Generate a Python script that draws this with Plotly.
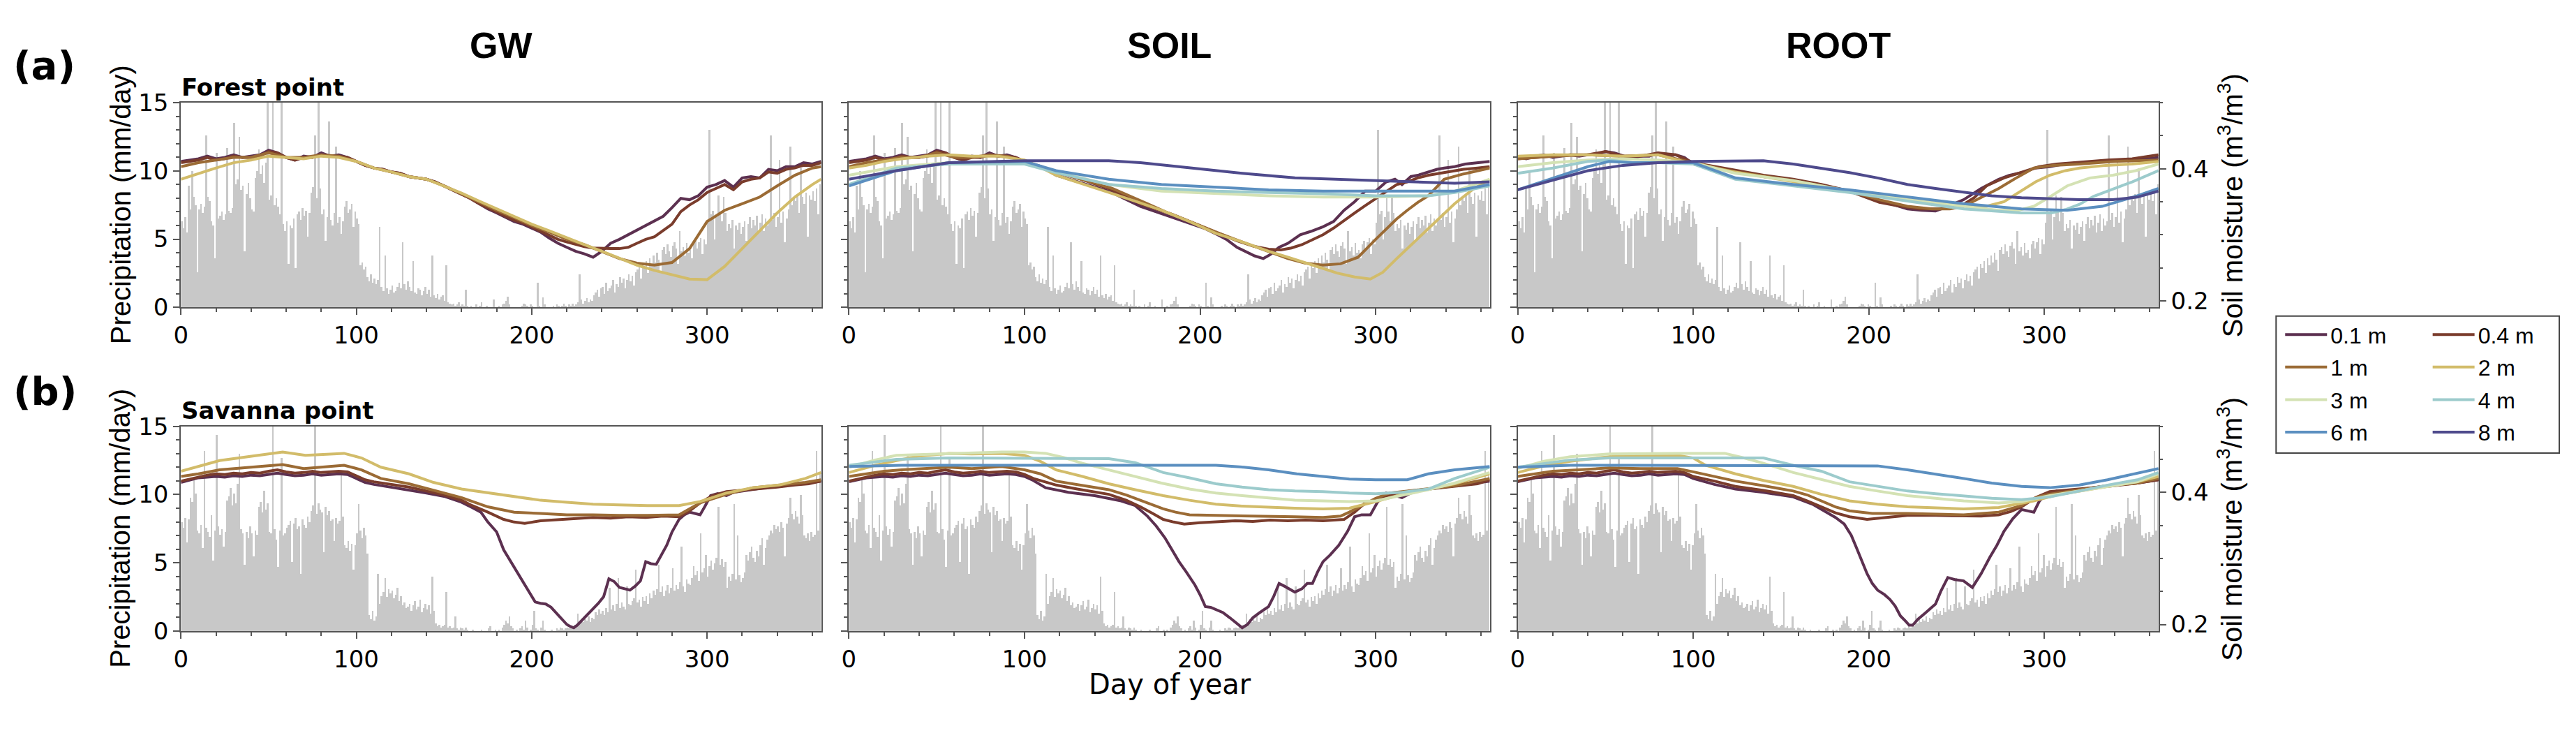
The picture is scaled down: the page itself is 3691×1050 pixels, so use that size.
import plotly.graph_objects as go

W, H = 3691, 1050

# ---------------- data ----------------
DAYS = list(range(1, 366))

PRECIP_FOREST = [
    6.3, 5.8, 6.6, 5.5, 8.9, 7.2, 10.0, 8.1, 7.5, 2.6,
    7.2, 7.6, 6.9, 7.4, 12.6, 8.1, 7.8, 6.3, 6.0, 3.6,
    11.3, 6.5, 6.7, 7.0, 6.4, 6.8, 11.7, 7.1, 6.9, 7.3,
    13.5, 9.0, 9.4, 12.5, 8.6, 8.9, 4.1, 8.3, 9.1, 8.0,
    7.2, 7.0, 9.5, 10.0, 11.6, 9.8, 10.4, 9.1, 10.6, 16.0,
    7.9, 8.2, 16.0, 7.5, 8.0, 7.4, 6.8, 15.5, 6.1, 5.6,
    6.3, 3.2, 6.0, 5.8, 6.5, 2.9, 6.8, 7.0, 6.4, 7.3,
    6.7, 7.1, 5.2, 6.9, 8.4, 8.8, 12.6, 8.0, 15.5, 8.7,
    6.8, 7.2, 4.9, 6.6, 13.6, 6.4, 6.0, 6.9, 11.8, 6.2,
    6.6, 5.4, 6.3, 7.4, 7.8, 6.9, 7.2, 7.6, 5.9, 7.0,
    6.5, 6.1, 3.1, 3.3, 2.8, 3.0, 2.2, 1.9, 2.4, 1.8,
    2.1, 1.7, 2.0, 5.9, 1.5, 1.2, 3.8, 1.4, 1.0, 1.3,
    1.6, 1.1, 1.2, 1.5, 1.8, 1.4, 4.8, 1.7, 1.3, 1.9,
    1.5, 1.2, 3.4, 1.1, 1.0, 1.4, 1.3, 0.9, 1.2, 1.5,
    1.0, 1.3, 0.8, 3.8, 0.9, 0.7, 1.0, 0.6, 0.8, 0.9,
    0.5, 3.1, 0.4, 0.3, 0.2, 0.3, 0.1, 0.2, 0.4, 0.1,
    0.2, 0.1, 1.3, 0.1, 0.0, 0.1, 0.0, 0.0, 0.2, 0.0,
    0.1, 0.4, 0.0, 0.0, 0.1, 0.0, 0.0, 0.0, 0.6, 0.0,
    0.0, 0.1, 0.0, 0.2, 0.3, 0.5, 0.8, 0.2, 0.0, 0.0,
    0.0, 0.0, 0.0, 0.0, 0.1, 0.3, 0.2, 0.1, 0.0, 0.2,
    0.1, 0.0, 0.0, 1.8, 0.1, 0.0, 0.75, 0.2, 0.0, 0.0,
    0.0, 0.0, 0.1, 0.0, 0.2, 0.1, 0.0, 0.1, 0.3, 0.1,
    0.0, 0.2, 0.1, 0.3, 0.1, 0.2, 0.4, 2.4, 0.6, 0.3,
    0.5, 0.7, 0.4, 0.6, 0.5, 0.9, 1.1, 1.3, 0.8, 1.4,
    1.5, 1.0, 1.8, 1.2, 1.4, 1.6, 2.0, 1.1, 1.7, 1.5,
    2.2, 1.8, 2.1, 1.4, 2.0, 2.4, 1.9, 2.3, 1.6, 2.6,
    2.8, 3.0, 2.1, 3.2, 2.9, 3.4, 2.5, 3.6, 3.1, 3.8,
    3.3, 4.0, 3.5, 2.7, 4.2, 4.4, 3.9, 4.6, 4.1, 3.7,
    4.5, 4.8, 4.3, 3.2, 5.6, 4.1, 4.4, 3.8, 4.7, 4.0,
    4.2, 3.6, 4.6, 4.9, 4.3, 4.8, 5.1, 3.9, 5.0, 4.6,
    6.2, 13.0, 6.8, 7.1, 5.0, 6.6, 8.2, 7.0, 6.3, 8.1,
    6.9, 5.6, 6.1, 5.8, 6.4, 4.3, 6.0, 5.7, 6.2, 5.4,
    5.9, 6.3, 4.9, 6.1, 6.6, 5.8, 6.4, 6.0, 6.7, 5.5,
    6.2, 6.8, 5.6, 6.5, 6.0, 6.3, 12.6, 6.4, 6.9, 5.9,
    6.6, 10.8, 6.2, 7.0, 4.8, 6.5, 7.2, 11.8, 7.5, 8.0,
    7.8, 8.3, 6.9, 10.2, 8.1, 7.6, 8.4, 5.2, 8.2, 7.9,
    8.5, 7.8, 8.7, 6.8, 9.0,
]

PRECIP_SAVANNA = [
    8.0, 7.6, 8.3, 6.5, 8.2, 9.8, 9.5, 11.3, 10.1, 7.4,
    7.2, 7.8, 6.1, 13.2, 7.6, 7.3, 6.9, 8.5, 5.2, 7.4,
    14.4, 7.7, 7.1, 7.5, 6.2, 7.3, 9.6, 9.9, 10.5, 9.2,
    10.1, 9.4, 10.8, 13.0, 7.5, 7.2, 4.9, 7.3, 6.8, 7.7,
    7.2, 5.5, 7.4, 7.1, 9.1, 9.5, 8.7, 10.3, 8.9, 9.4,
    7.3, 7.2, 16.0, 7.5, 6.7, 4.7, 7.4, 12.7, 7.0, 7.2,
    7.6, 7.8, 8.1, 5.1, 7.9, 8.3, 7.5, 7.7, 4.2, 8.2,
    7.8, 7.6, 8.4, 8.0, 8.8, 9.2, 16.0, 8.6, 9.4, 8.9,
    8.7, 5.8, 9.1, 8.5, 8.8, 8.1, 8.2, 6.6, 8.3, 7.9,
    8.1, 11.5, 8.4, 6.3, 6.1, 6.6, 5.9, 6.4, 4.5, 6.3,
    7.2, 9.3, 7.4, 6.8, 7.6, 7.0, 5.7, 1.2, 0.9, 1.5,
    0.8, 1.1, 4.2, 2.0, 2.6, 2.9, 3.9, 2.5, 3.1, 2.8,
    3.0, 2.4, 2.7, 3.2, 2.2, 2.6, 1.9, 2.1, 1.7, 1.8,
    2.0, 1.5, 1.9, 2.2, 1.6, 1.8, 2.3, 1.4, 1.7, 2.0,
    1.6, 1.9, 1.3, 4.0, 1.5, 0.6, 0.4, 0.5, 0.3, 0.4,
    0.5, 2.9, 0.3, 0.4, 0.2, 0.3, 1.1, 0.2, 0.1, 0.3,
    0.2, 0.1, 0.3, 0.1, 0.0, 0.0, 0.1, 0.0, 0.0, 0.0,
    0.0, 0.1, 0.0, 0.0, 0.0, 0.2, 0.4, 0.0, 0.0, 0.1,
    0.0, 0.1, 0.0, 0.3, 0.5, 0.8, 0.6, 1.1, 0.4, 0.2,
    0.0, 0.1, 0.0, 0.2, 0.4, 0.1, 0.8, 0.3, 0.0, 0.1,
    0.5, 1.5, 0.2, 0.1, 0.0, 0.3, 0.8, 0.1, 0.0, 0.0,
    0.0, 0.1, 0.0, 0.0, 0.2, 0.1, 0.3, 0.2, 0.1, 0.2,
    0.3, 0.2, 0.4, 0.3, 0.5, 0.4, 1.3, 0.6, 0.9, 0.7,
    0.9, 0.8, 1.1, 0.7, 1.0, 0.9, 1.4, 1.2, 1.6, 1.3,
    1.5, 1.2, 1.7, 1.4, 3.2, 1.6, 1.9, 1.5, 2.0, 3.9,
    1.7, 2.1, 1.8, 1.6, 3.3, 2.0, 1.9, 2.2, 2.4, 4.5,
    2.1, 2.3, 1.8, 2.5, 2.2, 2.6, 2.0, 2.8, 2.4, 3.0,
    2.7, 3.1, 4.9, 2.9, 3.3, 2.6, 3.0, 3.4, 2.8, 3.2,
    4.6, 3.0, 3.4, 3.1, 3.6, 6.2, 3.3, 2.9, 3.8, 3.5,
    3.4, 3.9, 4.8, 4.1, 4.4, 3.7, 7.2, 4.3, 4.6, 5.6,
    4.0, 4.8, 5.2, 4.5, 5.0, 5.4, 9.1, 4.9, 5.3, 4.7,
    5.1, 3.2, 4.0, 3.7, 4.2, 9.3, 3.8, 7.0, 4.1, 3.6,
    3.9, 4.3, 5.6, 5.2, 5.8, 6.2, 5.4, 5.1, 5.9, 5.5,
    6.3, 6.8, 4.9, 6.1, 6.7, 7.0, 7.4, 7.2, 7.8, 7.5,
    7.7, 7.3, 8.0, 7.6, 5.5, 7.9, 8.3, 9.8, 8.6, 8.2,
    8.8, 8.4, 7.9, 10.0, 8.5, 7.0, 6.8, 7.2, 6.6, 7.3,
    6.9, 7.1, 13.2, 7.4, 11.5,
]

DEPTHS = ["0.1 m", "0.4 m", "1 m", "2 m", "3 m", "4 m", "6 m", "8 m"]
DEPTH_COLORS = ["#5c3050", "#7a3c2c", "#9b6b35", "#d2bc6a",
                "#d4e2b4", "#9ccbcc", "#5b8fc0", "#4e4a8c"]
COLUMNS = ["GW", "SOIL", "ROOT"]
ROW_NAMES = ["Forest point", "Savanna point"]
ROW_LETTERS = ["(a)", "(b)"]
X_TICKS = [0, 100, 200, 300]

# soil moisture (m3/m3) as (day of year, value)
F_GW_01 = [(0,.411),(5,.413),(10,.415),(15,.419),(20,.415),(25,.417),(30,.421),(35,.417),(40,.419),(45,.421),(50,.428),(55,.424),(60,.417),(65,.413),(70,.419),(75,.417),(80,.424),(85,.419),(90,.421),(95,.417),(100,.411),(105,.405),(110,.401),(115,.399),(120,.395),(125,.393),(130,.388),(135,.386),(140,.384),(145,.380),(150,.374),(155,.368),(160,.362),(165,.355),(170,.347),(175,.339),(180,.333),(185,.326),(190,.320),(195,.316),(200,.310),(205,.304),(210,.295),(215,.287),(220,.281),(225,.275),(230,.271),(235,.266),(240,.275),(245,.287),(250,.293),(255,.300),(260,.306),(265,.314),(270,.320),(275,.328),(280,.341),(285,.355),(290,.353),(295,.359),(300,.372),(305,.376),(310,.382),(315,.372),(320,.386),(325,.388),(330,.386),(335,.399),(340,.397),(345,.403),(350,.403),(355,.409),(360,.407),(365,.411)]
F_GW_04 = [(0,.409),(5,.411),(10,.413),(15,.417),(20,.413),(25,.415),(30,.419),(35,.417),(40,.417),(45,.419),(50,.426),(55,.424),(60,.417),(65,.413),(70,.417),(75,.417),(80,.421),(85,.419),(90,.419),(95,.417),(100,.411),(105,.405),(110,.401),(115,.399),(120,.395),(125,.393),(130,.388),(135,.386),(140,.384),(145,.380),(150,.374),(155,.368),(160,.362),(165,.355),(170,.347),(175,.341),(180,.335),(185,.328),(190,.322),(195,.318),(200,.312),(205,.306),(210,.300),(215,.293),(220,.289),(225,.285),(230,.282),(235,.280),(240,.279),(245,.279),(250,.279),(255,.281),(260,.287),(265,.293),(270,.297),(275,.306),(280,.316),(285,.335),(290,.345),(295,.353),(300,.364),(305,.370),(310,.376),(315,.368),(320,.380),(325,.384),(330,.386),(335,.395),(340,.393),(345,.399),(350,.401),(355,.405),(360,.405),(365,.409)]
F_GW_1 = [(0,.403),(10,.409),(20,.413),(30,.417),(40,.417),(50,.424),(60,.417),(70,.417),(80,.421),(90,.419),(100,.411),(110,.401),(120,.395),(130,.388),(140,.384),(150,.374),(160,.362),(170,.349),(180,.337),(190,.326),(200,.314),(210,.304),(220,.293),(230,.285),(240,.275),(250,.264),(260,.257),(270,.254),(280,.258),(290,.279),(300,.320),(310,.337),(320,.347),(330,.357),(340,.374),(350,.390),(360,.401),(365,.403)]
F_GW_2 = [(0,.384),(10,.393),(20,.401),(30,.409),(40,.413),(50,.419),(60,.417),(70,.415),(80,.419),(90,.417),(100,.411),(110,.401),(120,.395),(130,.388),(140,.384),(150,.374),(160,.363),(170,.351),(180,.339),(190,.328),(200,.316),(210,.306),(220,.295),(230,.285),(240,.275),(250,.264),(260,.254),(270,.246),(280,.239),(290,.233),(300,.232),(310,.252),(320,.279),(330,.306),(340,.333),(350,.357),(360,.376),(365,.384)]

F_SOIL_01 = [(0,.411),(5,.413),(10,.415),(15,.419),(20,.415),(25,.417),(30,.421),(35,.417),(40,.419),(45,.421),(50,.428),(55,.424),(60,.417),(65,.413),(70,.419),(75,.417),(80,.424),(85,.419),(90,.421),(95,.417),(100,.411),(110,.403),(118,.390),(130,.380),(148,.366),(166,.343),(185,.326),(195,.316),(203,.309),(210,.300),(215,.293),(221,.281),(226,.275),(231,.268),(236,.264),(240,.270),(245,.281),(250,.287),(257,.300),(263,.305),(270,.312),(276,.320),(282,.337),(288,.350),(294,.366),(300,.366),(306,.380),(311,.384),(315,.376),(320,.388),(324,.390),(330,.395),(335,.399),(339,.401),(345,.403),(351,.407),(358,.409),(365,.411)]
F_SOIL_04 = [(0,.409),(5,.411),(10,.413),(15,.417),(20,.413),(25,.415),(30,.419),(35,.417),(40,.417),(45,.419),(50,.426),(55,.424),(60,.417),(65,.413),(70,.417),(75,.417),(80,.421),(85,.419),(90,.419),(95,.417),(100,.411),(110,.401),(120,.393),(130,.386),(148,.370),(166,.347),(185,.330),(200,.314),(210,.303),(221,.291),(230,.283),(239,.278),(246,.277),(252,.280),(258,.285),(263,.291),(270,.300),(276,.310),(282,.322),(288,.333),(294,.344),(300,.355),(306,.366),(312,.376),(318,.380),(324,.386),(330,.390),(340,.395),(350,.399),(358,.401),(365,.403)]
F_SOIL_1 = [(0,.403),(10,.409),(20,.413),(30,.417),(40,.417),(50,.424),(60,.417),(70,.417),(80,.421),(90,.419),(100,.411),(110,.401),(120,.393),(130,.386),(140,.378),(150,.370),(160,.359),(170,.347),(180,.335),(190,.324),(200,.314),(210,.303),(220,.293),(230,.283),(240,.273),(250,.264),(260,.257),(270,.254),(280,.256),(290,.266),(300,.293),(306,.309),(312,.324),(318,.337),(324,.349),(330,.359),(339,.384),(350,.392),(358,.397),(365,.401)]
F_SOIL_2 = [(0,.401),(10,.405),(20,.411),(30,.415),(45,.419),(57,.421),(70,.419),(85,.419),(100,.413),(110,.401),(118,.390),(130,.380),(148,.364),(165,.349),(178,.337),(194,.320),(209,.302),(224,.289),(239,.275),(250,.266),(260,.258),(270,.249),(278,.242),(288,.236),(297,.233),(304,.243),(312,.264),(321,.287),(330,.309),(338,.330),(345,.347),(355,.368),(365,.384)]
F_SOIL_3 = [(0,.390),(27,.403),(57,.409),(100,.409),(118,.395),(148,.376),(178,.366),(209,.362),(239,.359),(270,.357),(300,.357),(330,.359),(345,.366),(365,.384)]
F_SOIL_4 = [(0,.376),(27,.401),(57,.407),(100,.407),(118,.394),(148,.376),(178,.370),(209,.366),(239,.364),(270,.362),(300,.359),(330,.359),(345,.364),(365,.374)]
F_SOIL_6 = [(0,.374),(27,.397),(57,.409),(100,.411),(118,.397),(148,.384),(178,.376),(209,.372),(239,.368),(270,.366),(300,.366),(330,.366),(345,.366),(365,.376)]
F_SOIL_8 = [(0,.384),(27,.397),(57,.409),(100,.412),(118,.412),(148,.412),(166,.409),(194,.401),(224,.393),(254,.386),(285,.383),(315,.380),(345,.378),(365,.380)]

F_ROOT_01 = [(0,.417),(5,.415),(10,.419),(15,.421),(20,.417),(25,.419),(30,.421),(35,.419),(40,.421),(45,.421),(50,.426),(55,.424),(60,.419),(65,.415),(70,.419),(75,.419),(80,.424),(85,.419),(90,.421),(95,.417),(100,.407),(110,.401),(124,.397),(140,.388),(157,.382),(173,.374),(189,.366),(205,.353),(222,.339),(230,.337),(238,.336),(245,.343),(254,.353),(264,.370),(274,.384),(280,.390),(287,.394),(295,.401),(303,.403),(311,.407),(320,.409),(330,.411),(340,.413),(353,.413),(365,.417)]
F_ROOT_04 = [(0,.415),(10,.417),(20,.419),(30,.421),(40,.421),(50,.426),(60,.419),(70,.419),(80,.424),(90,.421),(100,.409),(124,.397),(140,.390),(157,.384),(173,.376),(189,.366),(206,.349),(218,.343),(229,.339),(241,.339),(254,.346),(260,.356),(267,.374),(277,.386),(287,.394),(297,.403),(307,.407),(320,.410),(336,.413),(350,.415),(365,.421)]
F_ROOT_1 = [(0,.415),(20,.419),(40,.421),(60,.419),(80,.421),(100,.409),(124,.395),(157,.382),(189,.366),(206,.353),(222,.343),(236,.339),(246,.339),(254,.343),(264,.356),(274,.370),(284,.386),(294,.401),(305,.405),(320,.407),(340,.411),(365,.413)]
F_ROOT_2 = [(0,.419),(20,.421),(40,.421),(60,.419),(80,.421),(100,.407),(124,.395),(157,.380),(189,.366),(222,.353),(241,.347),(255,.345),(267,.343),(277,.350),(287,.366),(295,.380),(303,.390),(312,.397),(320,.401),(335,.405),(350,.407),(365,.411)]
F_ROOT_3 = [(0,.403),(20,.409),(40,.413),(60,.415),(80,.413),(100,.409),(124,.393),(157,.382),(189,.366),(222,.353),(254,.343),(274,.337),(285,.337),(294,.343),(303,.357),(313,.374),(326,.386),(339,.390),(352,.397),(365,.407)]
F_ROOT_4 = [(0,.393),(20,.401),(40,.411),(52,.413),(65,.409),(80,.409),(100,.407),(124,.384),(157,.374),(189,.364),(222,.351),(254,.339),(287,.333),(304,.333),(312,.338),(320,.346),(328,.358),(336,.366),(350,.380),(365,.397)]
F_ROOT_6 = [(0,.368),(20,.386),(40,.403),(52,.411),(65,.409),(80,.409),(100,.409),(124,.386),(157,.376),(189,.368),(222,.357),(254,.347),(287,.339),(313,.337),(333,.343),(345,.352),(353,.359),(365,.370)]
F_ROOT_8 = [(0,.368),(20,.382),(40,.397),(60,.405),(80,.409),(100,.411),(120,.412),(140,.412),(157,.407),(173,.401),(189,.394),(205,.386),(222,.376),(238,.370),(254,.364),(270,.359),(287,.356),(304,.354),(320,.353),(339,.353),(353,.357),(365,.366)]

S_GW_01 = [(0,.415),(5,.418),(10,.422),(15,.423),(20,.424),(25,.423),(30,.425),(35,.424),(40,.426),(45,.425),(50,.427),(55,.429),(60,.427),(65,.425),(70,.426),(75,.428),(80,.426),(85,.427),(90,.428),(95,.427),(100,.421),(105,.415),(110,.412),(115,.410),(120,.407),(130,.404),(140,.399),(150,.394),(160,.385),(166,.377),(171,.370),(175,.355),(180,.340),(184,.313),(187,.300),(190,.287),(193,.275),(196,.260),(199,.247),(202,.234),(205,.232),(208,.231),(211,.226),(214,.217),(217,.208),(220,.200),(222,.197),(224,.195),(226,.199),(229,.207),(232,.215),(235,.224),(238,.232),(241,.242),(244,.269),(247,.265),(250,.256),(253,.254),(256,.252),(259,.258),(262,.266),(265,.295),(268,.292),(271,.291),(274,.305),(277,.320),(280,.340),(284,.359),(287,.366),(290,.370),(293,.368),(296,.366),(299,.380),(302,.395),(306,.398),(311,.395),(315,.400),(320,.402),(326,.405),(333,.407),(341,.409),(350,.412),(358,.414),(365,.417)]
S_GW_04 = [(0,.417),(5,.420),(10,.424),(15,.426),(20,.428),(25,.427),(30,.429),(35,.428),(40,.430),(45,.429),(50,.432),(55,.434),(60,.431),(65,.429),(70,.430),(75,.432),(80,.430),(85,.431),(90,.432),(95,.431),(100,.425),(105,.419),(110,.416),(115,.414),(120,.411),(130,.408),(140,.402),(150,.396),(160,.388),(166,.380),(175,.370),(184,.359),(190,.355),(196,.353),(205,.357),(215,.359),(225,.361),(235,.362),(245,.361),(255,.363),(265,.362),(275,.364),(284,.363),(290,.372),(296,.384),(303,.395),(311,.401),(320,.403),(330,.406),(340,.408),(350,.411),(358,.413),(365,.417)]
S_GW_1 = [(0,.424),(10,.428),(22,.434),(40,.438),(58,.442),(70,.436),(80,.438),(93,.441),(103,.434),(114,.421),(130,.413),(144,.403),(160,.392),(175,.378),(190,.370),(205,.368),(220,.366),(235,.366),(250,.365),(266,.365),(284,.366),(296,.384),(311,.397),(326,.407),(341,.411),(356,.415),(365,.419)]
S_GW_2 = [(0,.432),(22,.448),(41,.455),(58,.461),(71,.456),(80,.457),(93,.459),(103,.452),(114,.438),(130,.428),(144,.415),(160,.405),(175,.399),(190,.393),(205,.388),(220,.385),(235,.382),(250,.381),(266,.380),(284,.380),(296,.386),(311,.399),(326,.407),(341,.411),(356,.421),(365,.430)]

S_SOIL_01 = [(0,.416),(5,.419),(10,.422),(15,.423),(20,.424),(25,.423),(30,.425),(35,.424),(40,.426),(45,.425),(50,.427),(55,.429),(60,.427),(65,.425),(70,.426),(75,.428),(80,.426),(85,.427),(90,.428),(95,.427),(100,.424),(105,.418),(112,.407),(125,.400),(140,.395),(155,.387),(163,.380),(170,.364),(175,.349),(180,.331),(184,.313),(188,.295),(192,.280),(197,.260),(200,.245),(203,.227),(206,.226),(209,.223),(213,.218),(217,.210),(221,.202),(224,.195),(227,.200),(230,.210),(234,.218),(239,.227),(242,.243),(245,.262),(248,.258),(251,.253),(254,.249),(258,.254),(261,.262),(264,.262),(267,.280),(270,.295),(274,.305),(279,.320),(284,.341),(288,.363),(292,.366),(297,.366),(301,.385),(306,.399),(310,.396),(315,.392),(320,.399),(330,.405),(345,.410),(358,.414),(365,.417)]
S_SOIL_04 = [(0,.417),(5,.420),(10,.424),(15,.426),(20,.428),(25,.427),(30,.429),(35,.428),(40,.430),(45,.429),(50,.432),(55,.434),(60,.431),(65,.429),(70,.430),(75,.432),(80,.430),(85,.431),(90,.432),(95,.431),(100,.427),(105,.421),(110,.417),(118,.411),(130,.405),(148,.397),(158,.388),(166,.378),(173,.368),(179,.359),(185,.355),(191,.352),(200,.354),(209,.355),(220,.357),(230,.356),(240,.358),(250,.357),(260,.358),(270,.357),(276,.358),(282,.359),(288,.370),(294,.384),(300,.388),(306,.394),(312,.399),(320,.402),(330,.405),(345,.409),(358,.413),(365,.419)]
S_SOIL_1 = [(0,.424),(10,.428),(20,.432),(30,.434),(45,.436),(57,.438),(70,.436),(87,.439),(100,.434),(109,.428),(118,.417),(133,.411),(148,.404),(158,.396),(166,.388),(172,.382),(179,.375),(186,.370),(194,.366),(209,.365),(224,.364),(239,.363),(254,.363),(270,.362),(280,.364),(285,.370),(292,.380),(300,.391),(308,.399),(315,.401),(330,.405),(345,.410),(365,.421)]
S_SOIL_2 = [(0,.430),(15,.441),(27,.448),(40,.455),(57,.459),(70,.458),(87,.459),(100,.456),(109,.447),(118,.434),(133,.424),(148,.413),(163,.404),(179,.395),(194,.388),(209,.382),(224,.379),(239,.377),(254,.376),(270,.375),(285,.376),(300,.386),(315,.397),(330,.405),(345,.413),(365,.428)]
S_SOIL_3 = [(0,.438),(15,.449),(27,.456),(57,.459),(87,.461),(100,.461),(112,.459),(122,.453),(133,.444),(148,.434),(163,.424),(178,.414),(194,.405),(209,.399),(224,.395),(239,.391),(254,.388),(270,.387),(285,.386),(300,.387),(315,.395),(330,.404),(345,.414),(365,.430)]
S_SOIL_4 = [(0,.441),(15,.446),(27,.450),(57,.452),(90,.452),(118,.452),(148,.451),(163,.445),(179,.430),(194,.422),(209,.413),(224,.408),(239,.404),(254,.402),(270,.401),(285,.399),(300,.398),(315,.400),(330,.405),(345,.421),(355,.430),(365,.438)]
S_SOIL_6 = [(0,.439),(30,.441),(60,.441),(100,.441),(150,.441),(180,.441),(209,.441),(225,.438),(239,.434),(255,.428),(270,.424),(285,.420),(300,.419),(318,.419),(330,.428),(345,.434),(365,.439)]

S_ROOT_01 = [(0,.416),(5,.419),(10,.422),(15,.423),(20,.424),(25,.423),(30,.425),(35,.424),(40,.426),(45,.425),(50,.427),(55,.429),(60,.427),(65,.425),(70,.426),(75,.428),(80,.426),(85,.427),(90,.428),(95,.427),(100,.421),(112,.412),(124,.405),(140,.400),(157,.393),(168,.382),(176,.370),(181,.362),(186,.352),(190,.335),(193,.316),(196,.297),(199,.277),(202,.262),(205,.252),(209,.245),(212,.238),(215,.228),(218,.213),(221,.205),(223,.199),(225,.199),(228,.208),(232,.217),(235,.224),(238,.231),(241,.250),(245,.271),(249,.268),(254,.266),(259,.256),(264,.277),(269,.302),(273,.320),(277,.341),(282,.360),(287,.374),(291,.372),(294,.370),(297,.386),(300,.395),(307,.402),(313,.399),(320,.404),(336,.410),(353,.414),(365,.419)]
S_ROOT_04 = [(0,.417),(5,.420),(10,.424),(15,.426),(20,.428),(25,.427),(30,.429),(35,.428),(40,.430),(45,.429),(50,.432),(55,.434),(60,.431),(65,.429),(70,.430),(75,.432),(80,.430),(85,.431),(90,.432),(95,.430),(100,.424),(112,.417),(124,.409),(140,.403),(157,.395),(165,.387),(173,.378),(181,.369),(189,.363),(199,.359),(210,.362),(222,.365),(238,.365),(254,.365),(264,.364),(274,.366),(281,.371),(287,.378),(295,.392),(303,.401),(312,.403),(320,.405),(336,.409),(353,.414),(365,.419)]
S_ROOT_1 = [(0,.424),(10,.428),(20,.432),(35,.434),(52,.437),(70,.436),(91,.436),(100,.431),(112,.424),(124,.417),(140,.410),(157,.402),(165,.396),(173,.387),(181,.378),(189,.372),(202,.368),(222,.368),(238,.367),(254,.366),(274,.370),(287,.380),(296,.393),(303,.397),(320,.404),(336,.410),(353,.414),(365,.421)]
S_ROOT_2 = [(0,.430),(15,.440),(30,.447),(52,.454),(70,.456),(91,.456),(100,.452),(107,.441),(124,.428),(140,.418),(157,.409),(173,.397),(189,.387),(205,.382),(222,.378),(238,.376),(254,.375),(274,.377),(294,.387),(307,.396),(320,.402),(336,.409),(353,.416),(365,.424)]
S_ROOT_3 = [(0,.436),(15,.447),(30,.454),(52,.458),(91,.459),(118,.459),(129,.452),(140,.444),(157,.430),(173,.420),(189,.409),(205,.402),(222,.395),(238,.391),(254,.387),(274,.384),(287,.386),(303,.395),(320,.402),(336,.409),(353,.416),(365,.428)]
S_ROOT_4 = [(0,.438),(15,.444),(30,.449),(52,.452),(91,.452),(140,.452),(157,.441),(173,.432),(189,.416),(205,.409),(222,.402),(238,.398),(254,.395),(270,.391),(287,.389),(303,.393),(320,.402),(336,.411),(353,.419),(365,.430)]
S_ROOT_6 = [(0,.438),(30,.441),(60,.441),(91,.441),(140,.441),(189,.441),(205,.440),(222,.434),(238,.428),(254,.421),(270,.414),(287,.409),(303,.407),(320,.411),(336,.419),(353,.429),(365,.436)]

PANELS = [
    ("Forest point", "GW", PRECIP_FOREST, [F_GW_01, F_GW_04, F_GW_1, F_GW_2]),
    ("Forest point", "SOIL", PRECIP_FOREST, [F_SOIL_01, F_SOIL_04, F_SOIL_1, F_SOIL_2, F_SOIL_3, F_SOIL_4, F_SOIL_6, F_SOIL_8]),
    ("Forest point", "ROOT", PRECIP_FOREST, [F_ROOT_01, F_ROOT_04, F_ROOT_1, F_ROOT_2, F_ROOT_3, F_ROOT_4, F_ROOT_6, F_ROOT_8]),
    ("Savanna point", "GW", PRECIP_SAVANNA, [S_GW_01, S_GW_04, S_GW_1, S_GW_2]),
    ("Savanna point", "SOIL", PRECIP_SAVANNA, [S_SOIL_01, S_SOIL_04, S_SOIL_1, S_SOIL_2, S_SOIL_3, S_SOIL_4, S_SOIL_6]),
    ("Savanna point", "ROOT", PRECIP_SAVANNA, [S_ROOT_01, S_ROOT_04, S_ROOT_1, S_ROOT_2, S_ROOT_3, S_ROOT_4, S_ROOT_6]),
]

# ---------------- layout helpers ----------------
def px(x):
    return x / W

def py(y):
    return 1 - y / H

COL_X = [(249, 1169), (1209, 2130), (2170, 3091)]
ROW_Y = [(132, 437), (614, 919)]

AX_COLOR = "#555555"
TICK_FONT = dict(family="DejaVu Sans", size=34, color="black")
LEG_FONT = dict(family="Liberation Sans, Arial", size=32, color="black")

fig = go.Figure()
layout = dict(
    width=W, height=H, autosize=False,
    margin=dict(l=0, r=0, t=0, b=0),
    paper_bgcolor="white", plot_bgcolor="rgba(0,0,0,0)",
    bargap=0, barmode="overlay", showlegend=True,
)

for p, (rowname, col, precip, lines) in enumerate(PANELS):
    r, c = divmod(p, 3)
    xn = "x" if p == 0 else f"x{p+1}"
    y1n = "y" if p == 0 else f"y{2*p+1}"
    y2n = f"y{2*p+2}"
    xk = "xaxis" if p == 0 else f"xaxis{p+1}"
    y1k = "yaxis" if p == 0 else f"yaxis{2*p+1}"
    y2k = f"yaxis{2*p+2}"
    x0, x1 = COL_X[c]
    top, bot = ROW_Y[r]

    layout[xk] = dict(
        domain=[px(x0), px(x1)], anchor=y1n, range=[0, 365],
        tickmode="array", tickvals=X_TICKS,
        ticks="outside", ticklen=9, tickwidth=2, tickcolor=AX_COLOR,
        minor=dict(dtick=20, tick0=0, ticks="outside", ticklen=5, tickwidth=2, tickcolor=AX_COLOR),
        showline=True, linecolor=AX_COLOR, linewidth=2, mirror=True,
        showgrid=False, zeroline=False, tickfont=TICK_FONT,
    )
    layout[y1k] = dict(
        domain=[py(bot), py(top)], anchor=xn, range=[0, 15],
        tick0=0, dtick=5,
        ticks="outside", ticklen=9, tickwidth=2, tickcolor=AX_COLOR,
        minor=dict(dtick=1, tick0=0, ticks="outside", ticklen=5, tickwidth=2, tickcolor=AX_COLOR),
        showline=True, linecolor=AX_COLOR, linewidth=2, mirror=True,
        showgrid=False, zeroline=False, tickfont=TICK_FONT,
        showticklabels=(c == 0),
    )
    if c == 2:
        layout[y2k] = dict(
            overlaying=y1n, anchor=xn, side="right", range=[0.19, 0.50],
            tick0=0.2, dtick=0.2, tickformat=".1f",
            ticks="outside", ticklen=10, tickwidth=2, tickcolor=AX_COLOR,
            minor=dict(dtick=0.05, tick0=0.2, ticks="outside", ticklen=5, tickwidth=2, tickcolor=AX_COLOR),
            showline=False, showgrid=False, zeroline=False, tickfont=TICK_FONT,
        )
    else:
        layout[y2k] = dict(
            overlaying=y1n, anchor=xn, side="right", range=[0.19, 0.50],
            visible=False, showgrid=False, zeroline=False,
        )

    fig.add_trace(go.Bar(
        x=DAYS, y=precip, width=1, offset=-1,
        marker=dict(color="#c8c8c8", line=dict(width=0)),
        xaxis=xn, yaxis=y1n, showlegend=False, name="Precipitation",
    ))
    for i, series in enumerate(lines):
        show = (p == 1)
        fig.add_trace(go.Scatter(
            x=[d for d, v in series], y=[v for d, v in series],
            mode="lines", name=DEPTHS[i],
            line=dict(color=DEPTH_COLORS[i], width=4),
            xaxis=xn, yaxis=y2n,
            legendgroup=DEPTHS[i], showlegend=show,
            legend=("legend" if i % 2 == 0 else "legend2"),
        ))

annotations = []
for c, name in enumerate(COLUMNS):
    x0, x1 = COL_X[c]
    annotations.append(dict(
        text=f"<b>{name}</b>", x=px((x0 + x1) / 2), y=py(47),
        xref="paper", yref="paper", xanchor="center", yanchor="middle",
        showarrow=False, font=dict(family="Liberation Sans, Arial", size=52, color="black"),
    ))
for r, (name, letter) in enumerate(zip(ROW_NAMES, ROW_LETTERS)):
    top, bot = ROW_Y[r]
    annotations.append(dict(
        text=f"<b>{letter}</b>", x=px(6), y=py([76, 562][r]),
        xref="paper", yref="paper", xanchor="left", yanchor="middle",
        showarrow=False, font=dict(family="DejaVu Sans", size=56, color="black"),
    ))
    annotations.append(dict(
        text=f"<b>{name}</b>", x=px(248), y=py([109, 591][r]),
        xref="paper", yref="paper", xanchor="left", yanchor="middle",
        showarrow=False, font=dict(family="DejaVu Sans", size=34, color="black"),
    ))
    annotations.append(dict(
        text="Precipitation (mm/day)", x=px(162), y=py((top + bot) / 2),
        xref="paper", yref="paper", xanchor="center", yanchor="middle", textangle=-90,
        showarrow=False, font=dict(family="Liberation Sans, Arial", size=40, color="black"),
    ))
    annotations.append(dict(
        text="Soil moisture (m<sup>3</sup>/m<sup>3</sup>)", x=px(3194), y=py((top + bot) / 2),
        xref="paper", yref="paper", xanchor="center", yanchor="middle", textangle=-90,
        showarrow=False, font=dict(family="Liberation Sans, Arial", size=40, color="black"),
    ))
annotations.append(dict(
    text="Day of year", x=px(1670), y=py(998),
    xref="paper", yref="paper", xanchor="center", yanchor="middle",
    showarrow=False, font=dict(family="DejaVu Sans", size=40, color="black"),
))
layout["annotations"] = annotations

layout["legend"] = dict(
    x=px(3268), y=py(449), xanchor="left", yanchor="top",
    bgcolor="rgba(0,0,0,0)", borderwidth=0, font=LEG_FONT,
    tracegroupgap=2, itemwidth=60, orientation="v",
)
layout["legend2"] = dict(
    x=px(3480), y=py(449), xanchor="left", yanchor="top",
    bgcolor="rgba(0,0,0,0)", borderwidth=0, font=LEG_FONT,
    tracegroupgap=2, itemwidth=60, orientation="v",
)
layout["shapes"] = [dict(
    type="rect", xref="paper", yref="paper",
    x0=px(3260), x1=px(3667), y0=py(654), y1=py(450),
    line=dict(color="#444444", width=2), fillcolor="rgba(0,0,0,0)",
)]

fig.update_layout(**layout)
fig.write_html(
    "out.html",
    config={"displayModeBar": False},
    post_script="document.body.style.margin='0px';document.body.style.overflow='hidden';",
)
